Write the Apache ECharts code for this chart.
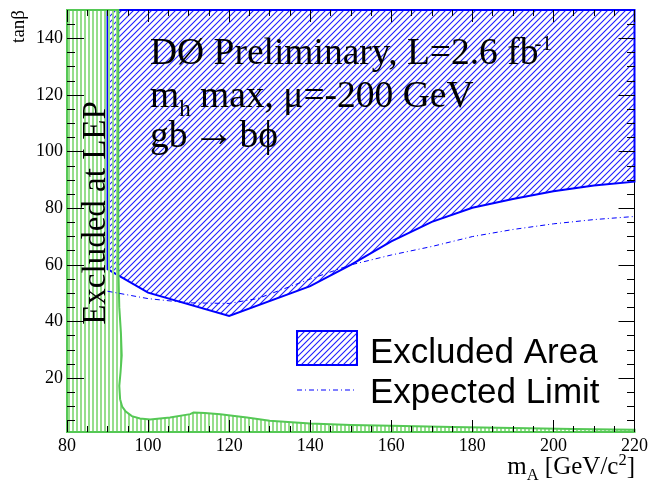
<!DOCTYPE html>
<html><head><meta charset="utf-8">
<script src="https://cdn.jsdelivr.net/npm/echarts@6/dist/echarts.min.js"></script>
<style>html,body{margin:0;padding:0;background:#fff}#c{width:651px;height:489px}</style>
</head><body><div id="c"></div>
<script>
// ---- data ----
const xTicks = [80, 100, 120, 140, 160, 180, 200, 220];
const yTicks = [20, 40, 60, 80, 100, 120, 140];
const X_MIN = 80, X_MAX = 220, Y_MIN = 1, Y_MAX = 150;
// observed exclusion boundary (lower edge of blue hatched region)
const obsX = [90, 100, 120, 140, 150, 160, 170, 180, 190, 200, 210, 220];
const obsY = [58.5, 50.2, 42.0, 52.5, 60.0, 68.3, 75.2, 80.2, 83.3, 86.0, 88.0, 89.4];
// expected limit
const expX = [90, 100, 110, 120, 127, 140, 150, 160, 170, 180, 190, 200, 210, 220];
const expY = [50.7, 48.1, 46.6, 46.4, 48.1, 55.0, 60.0, 63.5, 66.5, 70.0, 72.5, 74.5, 76.0, 77.1];
// LEP excluded boundary
const lepX = [92.65, 92.65, 92.9, 93.3, 93.5, 93.2, 92.9, 93.1, 93.6, 94.5, 96.0, 98.0, 100.5, 105.4, 110.4, 111.2, 114, 117.8, 124.4, 130, 140, 150, 160, 175, 190, 205, 220];
const lepY = [150, 60, 45, 36, 28, 22, 17.3, 12.6, 10, 8.2, 6.6, 5.8, 5.4, 6.1, 7.3, 7.9, 7.7, 7.3, 6.1, 5.0, 4.0, 3.5, 3.2, 2.8, 2.4, 2.1, 1.8];

const yMinor = [];
for (let v = 5; v < Y_MAX; v += 5) yMinor.push(v);

// ---- patterns ----
function hatchCanvas() {
  const c = document.createElement('canvas'); c.width = 6; c.height = 6;
  const g = c.getContext('2d');
  g.strokeStyle = 'rgb(30,30,255)'; g.lineWidth = 1.1;
  g.beginPath();
  g.moveTo(-1, 7); g.lineTo(7, -1);
  g.moveTo(-7, 7); g.lineTo(1, -1);
  g.moveTo(5, 7); g.lineTo(13, -1);
  g.stroke();
  return c;
}
function stripeCanvas() {
  const c = document.createElement('canvas'); c.width = 4; c.height = 4;
  const g = c.getContext('2d'); g.fillStyle = 'rgb(150,222,140)';
  g.fillRect(0, 0, 2, 4);
  return c;
}
function hatchPattern() { return { image: hatchCanvas(), repeat: 'repeat' }; }
const stripes = { image: stripeCanvas(), repeat: 'repeat' };

const bluePts = [[obsX[0], Y_MAX]].concat(obsX.map((x, i) => [x, obsY[i]])).concat([[obsX[obsX.length - 1], Y_MAX]]);
const lepPts = [[X_MIN, Y_MAX]].concat(lepX.map((x, i) => [x, lepY[i]])).concat([[X_MAX, Y_MIN], [X_MIN, Y_MIN]]);

function polyRender(pts, fill, stroke, lw) {
  return function (params, api) {
    return {
      type: 'polygon', silent: true,
      shape: { points: pts.map(p => api.coord(p)) },
      style: { fill: fill, stroke: stroke, lineWidth: lw, lineJoin: 'miter' }
    };
  };
}

// ---- text helpers ----
const mctx = document.createElement('canvas').getContext('2d');
function tw(t, s, fam) { mctx.font = s + 'px "' + fam + '"'; return mctx.measureText(t).width; }
function runText(x0, base, parts, fam, align) {
  const total = parts.reduce((a, p) => a + tw(p.t, p.s, fam) + (p.dx || 0), 0);
  let x = align === 'right' ? x0 - total : x0;
  const els = [];
  parts.forEach(p => {
    x += (p.dx || 0);
    els.push({ type: 'text', x: x, y: base + (p.dy || 0) - 0.34 * p.s, z: 100, silent: true,
      style: { text: p.t, fontSize: p.s, fontFamily: fam, fill: '#000', align: 'left', verticalAlign: 'middle' } });
    x += tw(p.t, p.s, fam);
  });
  return els;
}
const SERIF = 'Liberation Serif', SANS = 'Liberation Sans';

const graphics = [].concat(
  runText(150, 67, [{ t: 'DØ Preliminary, L=2.6 fb', s: 37.5 }, { t: '-1', s: 21, dy: -15, dx: -4 }], SERIF),
  runText(150, 110, [{ t: 'm', s: 37.5 }, { t: 'h', s: 23, dy: 8 }, { t: ' max, μ=-200 GeV', s: 37.5 }], SERIF),
  runText(150, 150, [{ t: 'gb', s: 37.5 }, { t: '→', s: 42, dx: 5, dy: -1 }, { t: 'bϕ', s: 37.5, dx: 5 }], SERIF),
  runText(635, 476, [{ t: 'm', s: 25 }, { t: 'A', s: 16.5, dy: 5 }, { t: ' [GeV/c', s: 25 }, { t: '2', s: 16.5, dy: -10 }, { t: ']', s: 25 }], SERIF, 'right'),
  runText(370, 365, [{ t: 'Excluded Area', s: 35 }], SANS),
  runText(370, 405, [{ t: 'Expected Limit', s: 35 }], SANS),
  [
    { type: 'text', x: 96.5, y: 213, rotation: Math.PI / 2, z: 100, silent: true,
      style: { text: 'Excluded at LEP', fontSize: 33, fontFamily: SERIF, fill: '#000', align: 'center', verticalAlign: 'middle' } },
    { type: 'text', x: 19.5, y: 10, rotation: Math.PI / 2, z: 100, silent: true,
      style: { text: 'tanβ', fontSize: 19, fontFamily: SERIF, fill: '#000', align: 'right', verticalAlign: 'middle' } },
    { type: 'rect', z: 100, silent: true, shape: { x: 297, y: 331, width: 60, height: 34 },
      style: { fill: hatchPattern(), stroke: '#0000ff', lineWidth: 2 } },
    { type: 'line', z: 100, silent: true, shape: { x1: 297, y1: 390, x2: 357, y2: 390 },
      style: { stroke: '#0000ff', lineWidth: 1, lineDash: [5, 3, 1, 3] } }
  ]
);

const tickStyle = { color: '#000', width: 1 };
const labelStyle = { color: '#000', fontFamily: SERIF, fontSize: 18 };
function xAx(pos, labels) {
  return { gridIndex: 0, type: 'value', min: X_MIN, max: X_MAX, interval: 20, position: pos, z: 10,
    axisLine: { show: false }, splitLine: { show: false },
    axisTick: { show: true, inside: true, length: 12, lineStyle: tickStyle },
    minorTick: { show: true, splitNumber: 4, length: 6, lineStyle: tickStyle },
    axisLabel: Object.assign({ show: labels, margin: 5, showMinLabel: true, showMaxLabel: true, customValues: xTicks }, labelStyle) };
}
function yAx(grid, pos, vals, len, labels) {
  return { gridIndex: grid, type: 'value', min: Y_MIN, max: Y_MAX, position: pos, z: 10,
    axisLine: { show: false }, splitLine: { show: false },
    axisTick: { show: true, inside: true, length: len, customValues: vals, lineStyle: tickStyle },
    axisLabel: Object.assign({ show: labels, margin: 4, customValues: vals }, labelStyle) };
}

const chart = echarts.init(document.getElementById('c'), null, { renderer: 'canvas' });
chart.setOption({
  animation: false,
  backgroundColor: '#fff',
  grid: [
    { left: 67, top: 10, width: 568, height: 422, show: true, borderColor: '#000', borderWidth: 1, backgroundColor: 'transparent' },
    { left: 67, top: 10, width: 568, height: 422, show: false }
  ],
  xAxis: [xAx('bottom', true), xAx('top', false),
    { gridIndex: 1, type: 'value', min: X_MIN, max: X_MAX, show: false }],
  yAxis: [yAx(0, 'left', yTicks, 17, true), yAx(0, 'right', yTicks, 16, false),
    yAx(1, 'left', yMinor, 8, false), yAx(1, 'right', yMinor, 8, false)],
  series: [
    { type: 'custom', xAxisIndex: 0, yAxisIndex: 0, z: 2, silent: true, data: [[X_MIN, Y_MIN]],
      renderItem: polyRender(bluePts, hatchPattern(), '#0000ff', 2) },
    { type: 'custom', xAxisIndex: 0, yAxisIndex: 0, z: 3, silent: true, data: [[X_MIN, Y_MIN]],
      renderItem: polyRender(lepPts, stripes, 'rgb(85,200,85)', 2) },
    { type: 'line', xAxisIndex: 0, yAxisIndex: 0, z: 4, silent: true, symbol: 'none', showSymbol: false,
      data: expX.map((x, i) => [x, expY[i]]),
      lineStyle: { color: '#0000ff', width: 1, type: [5, 3, 1, 3] } }
  ],
  graphic: graphics
});
</script></body></html>
